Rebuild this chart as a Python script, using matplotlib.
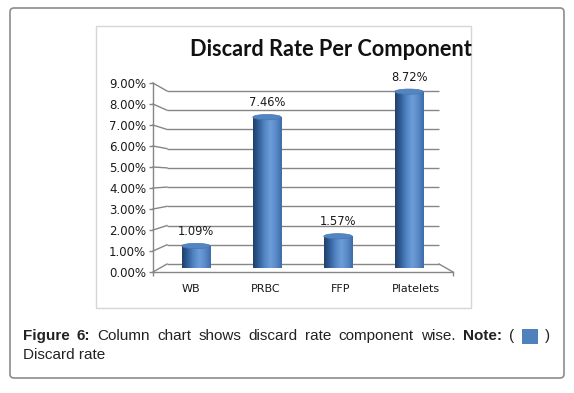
import numpy as np
import matplotlib
matplotlib.use("Agg")
import matplotlib.pyplot as plt
from matplotlib.patches import Ellipse, FancyBboxPatch, Rectangle
from matplotlib.colors import LinearSegmentedColormap

# data
components = ["WB", "PRBC", "FFP", "Platelets"]
discard_rate = [1.09, 7.46, 1.57, 8.72]
y_ticks = [0, 1, 2, 3, 4, 5, 6, 7, 8, 9]

W, H = 574, 393
fig = plt.figure(figsize=(W / 100, H / 100), dpi=100)


def rect(x0, y_top, x1, y_bot):
    # figure pixel box (origin top-left) -> add_axes rect
    return [x0 / W, 1 - y_bot / H, (x1 - x0) / W, (y_bot - y_top) / H]


# background / frame layer
bg = fig.add_axes([0, 0, 1, 1], zorder=0)
bg.set_xlim(0, W)
bg.set_ylim(H, 0)
bg.axis("off")
bg.add_patch(FancyBboxPatch((10, 8), 554, 370, boxstyle="round,pad=0,rounding_size=4",
                            fc="white", ec="#8c8c8c", lw=1.2))
bg.add_patch(Rectangle((95.5, 25.5), 375, 282, fc="none", ec="#d6d6d6", lw=1))

grid_col = "#868686"

# back wall (gridlines)
wall = fig.add_axes(rect(167, 91, 439, 264), zorder=1)
wall.set_xlim(0, 1)
wall.set_ylim(0, 9)
wall.axis("off")
for t in y_ticks:
    wall.plot([0, 1], [t, t], color=grid_col, lw=1, solid_capstyle="butt", clip_on=False)

# front axis with tick labels
front = fig.add_axes(rect(153, 83, 453, 272), zorder=1)
front.set_xlim(0, 1)
front.set_ylim(0, 9)
front.patch.set_alpha(0)
for s in ["top", "right"]:
    front.spines[s].set_visible(False)
for s in ["left", "bottom"]:
    front.spines[s].set_color(grid_col)
    front.spines[s].set_linewidth(1)
front.set_yticks(y_ticks)
front.set_yticklabels([f"{t:.2f}%" for t in y_ticks], fontsize=8.5, color="#1a1a1a")
front.tick_params(axis="y", length=3, width=1, color=grid_col, pad=2)
n = len(components)
front.set_xticks([(i + 0.5) / n for i in range(n)])
front.set_xticklabels(components, fontsize=8, color="#1a1a1a")
front.set_xticks([0, 1], minor=True)
front.tick_params(axis="x", which="major", length=0, pad=8.3)
front.tick_params(axis="x", which="minor", length=3, width=1, color=grid_col)

# diagonal connectors between front axis and back wall
fig.canvas.draw()
to_bg = bg.transData.inverted()
for t in y_ticks:
    p0 = to_bg.transform(front.transData.transform((0, t)))
    p1 = to_bg.transform(wall.transData.transform((0, t)))
    bg.plot([p0[0], p1[0]], [p0[1], p1[1]], color=grid_col, lw=1)
q0 = to_bg.transform(wall.transData.transform((1, 0)))
q1 = to_bg.transform(front.transData.transform((1, 0)))
bg.plot([q0[0], q1[0]], [q0[1], q1[1]], color=grid_col, lw=1)

# bars (cylinders) in the middle depth plane
ax = fig.add_axes(rect(160.5, 86, 444.5, 268), zorder=2)
ax.set_xlim(-0.5, 3.5)
ax.set_ylim(0, 9)
ax.patch.set_alpha(0)
ax.axis("off")

cyl = LinearSegmentedColormap.from_list(
    "cyl", ["#213f69", "#33609a", "#5286c4", "#6d9dd7", "#5a8bc9", "#3f6ca7"])
grad = np.linspace(0, 1, 64).reshape(1, -1)
bw = 0.4
cap_h = 0.26

bars = ax.bar(range(n), discard_rate, width=bw, color="none", ec="none")
for i, (b, v) in enumerate(zip(bars, discard_rate)):
    x0 = b.get_x()
    im = ax.imshow(grad, cmap=cyl, aspect="auto", extent=(x0, x0 + bw, -0.2, v),
                   zorder=3, interpolation="bicubic")
    im.set_clip_path(b)
    bottom = Ellipse((i, 0), bw, cap_h, fc="none", ec="none", zorder=3)
    ax.add_patch(bottom)
    im2 = ax.imshow(grad, cmap=cyl, aspect="auto", extent=(x0, x0 + bw, -0.2, 0.2),
                    zorder=3, interpolation="bicubic")
    im2.set_clip_path(bottom)
    ax.add_patch(Ellipse((i, v), bw, cap_h, fc="#5485c3", ec="#4775b2", lw=0.5, zorder=4))
    ax.annotate(f"{v:.2f}%", (i, v), xytext=(0, 8), textcoords="offset pixels",
                ha="center", va="bottom", fontsize=8.3, color="#1a1a1a")

ax.set_ylim(0, 9)
ax.set_xlim(-0.5, 3.5)

# title
fig.text(331 / W, 1 - 50 / H, "Discard Rate Per Component", ha="center", va="center",
         fontsize=15.7, fontweight="bold", family="Lato", color="#111111")

# caption, justified on the first line
cap_fs = 11
line1 = [("Figure", True), ("6:", True), ("Column", False), ("chart", False), ("shows", False),
         ("discard", False), ("rate", False), ("component", False), ("wise.", False),
         ("Note:", True), ("(", False), ("BOX", False), (")", False)]
x_left, x_right, y1 = 23, 550, 336
r = fig.canvas.get_renderer()
objs, widths = [], []
for word, bold in line1:
    if word == "BOX":
        objs.append(None)
        widths.append(16)
        continue
    t = bg.text(0, y1, word, fontsize=cap_fs, family="Liberation Sans",
                fontweight="bold" if bold else "normal", va="center", ha="left", color="#222222")
    bb = t.get_window_extent(renderer=r)
    objs.append(t)
    widths.append(bb.width)
gap = (x_right - x_left - sum(widths)) / (len(widths) - 1)
x = x_left
for t, w in zip(objs, widths):
    if t is None:
        bg.add_patch(Rectangle((x, y1 - 7.5), w, 15, fc="#4f81bd", ec="none"))
    else:
        t.set_x(x)
    x += w + gap
bg.text(x_left, 355, "Discard rate", fontsize=cap_fs, family="Liberation Sans",
        va="center", ha="left", color="#222222")

fig.savefig("out.png", dpi=100)
